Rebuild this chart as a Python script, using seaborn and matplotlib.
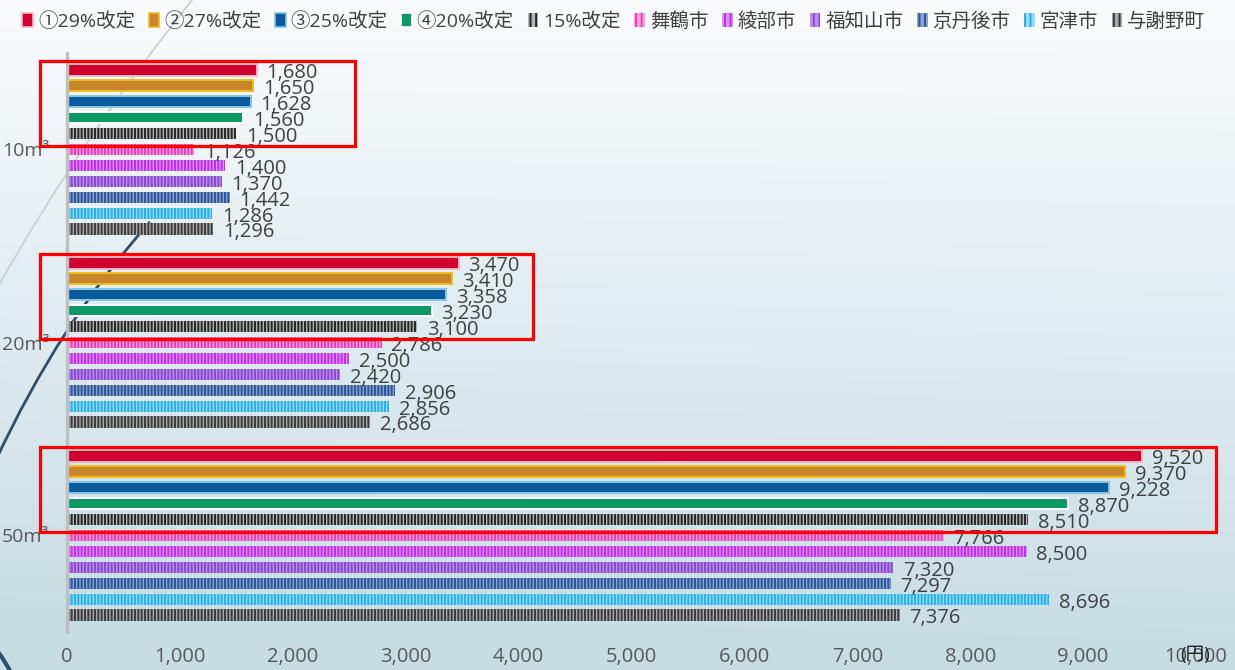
import numpy as np
import pandas as pd
import matplotlib
matplotlib.use("Agg")
import matplotlib.pyplot as plt
import seaborn as sns
from matplotlib.patches import Patch, Rectangle, PathPatch
from matplotlib.path import Path
from matplotlib.ticker import FuncFormatter

# ---------------- data ----------------
categories = ["10m³", "20m³", "50m³"]
series_names = ["①29%改定", "②27%改定", "③25%改定", "④20%改定", "15%改定",
                "舞鶴市", "綾部市", "福知山市", "京丹後市", "宮津市", "与謝野町"]
v_29 = [1680, 3470, 9520]
v_27 = [1650, 3410, 9370]
v_25 = [1628, 3358, 9228]
v_20 = [1560, 3230, 8870]
v_15 = [1500, 3100, 8510]
v_maizuru = [1126, 2786, 7766]
v_ayabe = [1400, 2500, 8500]
v_fukuchiyama = [1370, 2420, 7320]
v_kyotango = [1442, 2906, 7297]
v_miyazu = [1286, 2856, 8696]
v_yosano = [1296, 2686, 7376]
all_values = [v_29, v_27, v_25, v_20, v_15, v_maizuru, v_ayabe,
              v_fukuchiyama, v_kyotango, v_miyazu, v_yosano]
x_ticks = list(range(0, 10001, 1000))

# styles: (face, edge/hatch color, hatch, edge width)
styles = [
    ("#D0002F", "#F4B9C6", None, 1.4),
    ("#C8862A", "#F3BB1A", None, 1.4),
    ("#0B5A9A", "#86C6E8", None, 1.4),
    ("#0C9966", "#FFFFFF", None, 1.4),
    ("#B4B4B4", "#262626", "|||||", 0),
    ("#F7A2DE", "#E83CB8", "|||||", 0),
    ("#DD90F6", "#C030E8", "|||||", 0),
    ("#B992EA", "#8A48D0", "|||||", 0),
    ("#88A3D4", "#2F5597", "|||||", 0),
    ("#93DBF6", "#28B0E6", "|||||", 0),
    ("#ABABAB", "#3A3A3A", "|||||", 0),
]

rows = []
for name, vals in zip(series_names, all_values):
    for c, v in zip(categories, vals):
        rows.append({"category": c, "series": name, "value": v})
df = pd.DataFrame(rows)

# ---------------- figure ----------------
sns.set_theme(style="white")
plt.rcParams["font.family"] = ["Open Sans", "Noto Sans CJK JP", "DejaVu Sans"]
plt.rcParams["hatch.linewidth"] = 1.4

W, H = 1235, 670
fig = plt.figure(figsize=(W / 100, H / 100), dpi=100)

# background gradient + decorative curves
bg = fig.add_axes([0, 0, 1, 1], zorder=-5)
bg.set_xlim(0, W)
bg.set_ylim(H, 0)
bg.axis("off")
yy = np.linspace(0, 1, 256)[:, None]
xx = np.linspace(0, 1, 256)[None, :]
top = np.array([0.975, 0.982, 0.988])
bot = np.array([0.780, 0.868, 0.895])
t = np.clip(yy * 1.05 - 0.03 + 0.06 * (1 - xx) * yy, 0, 1)
img = top[None, None, :] * (1 - t[..., None]) + bot[None, None, :] * t[..., None]
bg.imshow(img, extent=[0, W, H, 0], aspect="auto", interpolation="bilinear")
p1 = Path([(196, -5), (80, 140), (-5, 292)], [Path.MOVETO, Path.CURVE3, Path.CURVE3])
bg.add_patch(PathPatch(p1, fill=False, edgecolor="#C9D0D4", lw=1.3))
p2 = Path([(150, 222), (60, 322), (-5, 462)], [Path.MOVETO, Path.CURVE3, Path.CURVE3])
bg.add_patch(PathPatch(p2, fill=False, edgecolor="#2E4F6B", lw=2.0))
p3 = Path([(-2, 652), (6, 662), (12, 675)], [Path.MOVETO, Path.CURVE3, Path.CURVE3])
bg.add_patch(PathPatch(p3, fill=False, edgecolor="#2E4F6B", lw=3.0))

ax = fig.add_axes([67 / W, 1 - 632 / H, (1196 - 67) / W, (632 - 53) / H])
ax.set_facecolor("none")

sns.barplot(data=df, y="category", x="value", hue="series", orient="h",
            order=categories, hue_order=series_names, width=0.906, gap=0.3,
            palette=[s[0] for s in styles], legend=False, ax=ax, saturation=1,
            errorbar=None)

for cont, (face, edge, hatch, lw) in zip(ax.containers, styles):
    for bar in cont:
        bar.set_facecolor(face)
        bar.set_edgecolor(edge)
        bar.set_linewidth(lw)
        if hatch:
            bar.set_hatch(hatch)
    labs = ax.bar_label(cont, labels=[f"{v:,.0f}" for v in cont.datavalues],
                        padding=7, fontsize=14.5, color="#404040")
    for txt in labs:
        txt.set_va("center")
        txt.set_position((7, -2.5))

ax.set_xlim(0, 10000)
ax.set_xticks(x_ticks)
ax.xaxis.set_major_formatter(FuncFormatter(lambda v, p: f"{v:,.0f}"))
ax.tick_params(axis="x", labelsize=14.5, labelcolor="#595959", length=0, pad=11)
ax.tick_params(axis="y", labelsize=14, labelcolor="#595959", length=0, pad=13)
ax.set_xlabel("")
ax.set_ylabel("")
for s in ["top", "right", "bottom"]:
    ax.spines[s].set_visible(False)
ax.spines["left"].set_color("#BFBFBF")
ax.spines["left"].set_linewidth(2.4)
ax.grid(False)

# red highlight boxes around revised-rate bars
slot = 0.906 / 11
for i, c in enumerate(categories):
    top_y = i - 5 * slot - 0.048
    bot_y = i - 1 * slot + 0.062
    vmax = max(v[i] for v in all_values[:5])
    right = vmax + (870 if i == 0 else 660)
    ax.add_patch(Rectangle((-240, top_y), right + 240, bot_y - top_y, fill=False,
                           edgecolor="#FF0000", lw=2.3, clip_on=False, zorder=5))

fig.text(1195 / W, 1 - 655 / H, "(円)", fontsize=13.5, color="#222222",
         ha="center", va="center")

handles = []
for name, (face, edge, hatch, lw) in zip(series_names, styles):
    if hatch:
        handles.append(Patch(facecolor=face, edgecolor=edge, hatch="|||", lw=0, label=name))
    else:
        handles.append(Patch(facecolor=face, edgecolor=edge, lw=1.2, label=name))
fig.legend(handles=handles, loc="upper center", bbox_to_anchor=(0.497, 1.008), ncol=11,
           frameon=False, fontsize=14, handlelength=0.55, handleheight=0.75,
           handletextpad=0.25, columnspacing=0.7, labelcolor="#404040")

fig.savefig("out.png", dpi=100)
